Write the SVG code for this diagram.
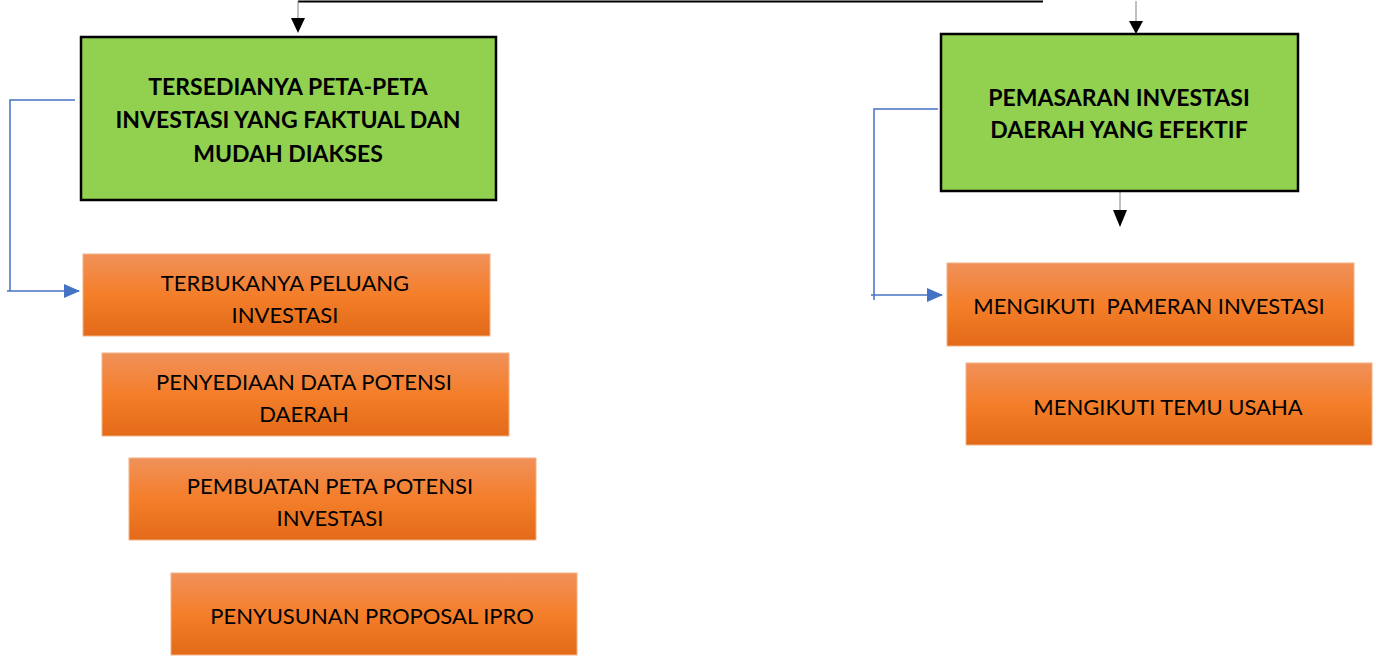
<svg xmlns="http://www.w3.org/2000/svg" width="1376" height="657" viewBox="0 0 1376 657">
<style>
.g{fill:#92D050;stroke:#000;stroke-width:2.5}
.o{fill:url(#og);stroke:#F4B183;stroke-width:1}
.tb{font-family:Lato,"Open Sans",sans-serif;font-weight:bold;font-size:23px;fill:#000;text-anchor:middle}
.t{font-family:Lato,"Open Sans",sans-serif;font-size:22px;fill:#000;text-anchor:middle}
.b{stroke:#4472C4;stroke-width:1.5;fill:none}
</style>
<defs>
<linearGradient id="og" x1="0" y1="0" x2="0" y2="1">
<stop offset="0" stop-color="#F0915A"/>
<stop offset="0.5" stop-color="#F47E2A"/>
<stop offset="1" stop-color="#E26A18"/>
</linearGradient>
<marker id="ab" markerWidth="16" markerHeight="14" refX="15" refY="7" orient="auto" markerUnits="userSpaceOnUse" viewBox="0 0 16 14">
<path d="M0,0 L16,7 L0,14 z" fill="#4472C4"/>
</marker>
</defs>
<g id="connectors">
<path d="M298,1.5 H1043" stroke="#000" stroke-width="2" fill="none"/>
<path d="M298,1 V18" stroke="#808080" stroke-width="1"/>
<path d="M291,18 L305,18 L298,33 z" fill="#000"/>
<path d="M1136,1 V21" stroke="#808080" stroke-width="1"/>
<path d="M1129,21 L1143,21 L1136,34 z" fill="#000"/>
<path d="M1120,191 V210" stroke="#808080" stroke-width="1"/>
<path d="M1113,210 L1127,210 L1120,227 z" fill="#000"/>
<path class="b" d="M75,100 H10 V291"/>
<path class="b" d="M7,291 H79" marker-end="url(#ab)"/>
<path class="b" d="M938,109 H874 V300"/>
<path class="b" d="M871,295 H942" marker-end="url(#ab)"/>
</g>
<g id="n1">
<rect class="g" x="81" y="37" width="415" height="163"/>
<text class="tb" x="288" y="95">TERSEDIANYA PETA-PETA</text>
<text class="tb" x="288" y="128">INVESTASI YANG FAKTUAL DAN</text>
<text class="tb" x="288" y="162">MUDAH DIAKSES</text>
</g>
<g id="n2">
<rect class="g" x="941" y="34" width="357" height="157"/>
<text class="tb" x="1119" y="106">PEMASARAN INVESTASI</text>
<text class="tb" x="1119" y="138">DAERAH YANG EFEKTIF</text>
</g>
<g id="n3">
<rect class="o" x="83" y="254" width="407" height="82"/>
<text class="t" x="285" y="291">TERBUKANYA PELUANG</text>
<text class="t" x="285" y="323">INVESTASI</text>
</g>
<g id="n4">
<rect class="o" x="102" y="353" width="407" height="83"/>
<text class="t" x="304" y="390">PENYEDIAAN DATA POTENSI</text>
<text class="t" x="304" y="422">DAERAH</text>
</g>
<g id="n5">
<rect class="o" x="129" y="458" width="407" height="82"/>
<text class="t" x="330" y="494">PEMBUATAN PETA POTENSI</text>
<text class="t" x="330" y="526">INVESTASI</text>
</g>
<g id="n6">
<rect class="o" x="171" y="573" width="406" height="82"/>
<text class="t" x="372" y="624">PENYUSUNAN PROPOSAL IPRO</text>
</g>
<g id="n7">
<rect class="o" x="947" y="263" width="407" height="83"/>
<text class="t" x="1149" y="314" xml:space="preserve">MENGIKUTI  PAMERAN INVESTASI</text>
</g>
<g id="n8">
<rect class="o" x="966" y="363" width="406" height="82"/>
<text class="t" x="1168" y="415">MENGIKUTI TEMU USAHA</text>
</g>
</svg>
